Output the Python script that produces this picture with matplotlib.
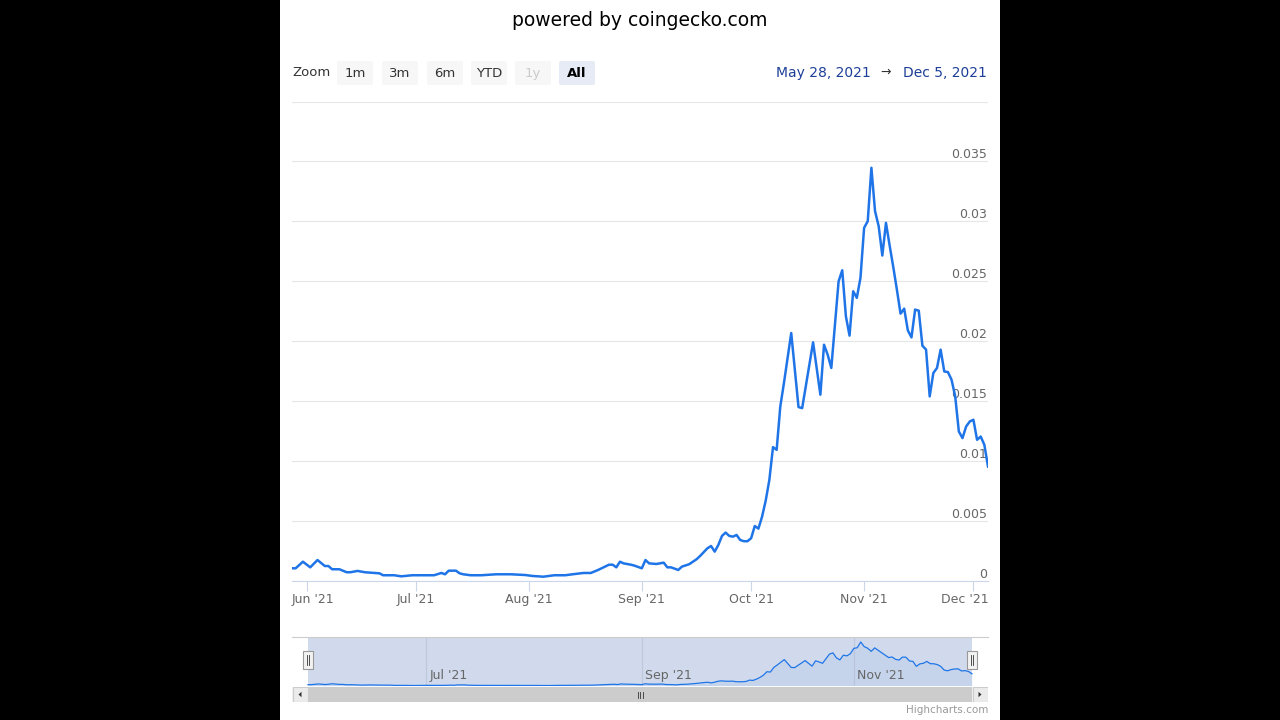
import matplotlib
matplotlib.use("Agg")
import matplotlib.pyplot as plt
import matplotlib.dates as mdates
import matplotlib.transforms as mtransforms
from matplotlib.patches import FancyBboxPatch, Rectangle, Polygon
import numpy as np
import pandas as pd

# daily price (USD)
dates = [
    "2021-05-28", "2021-05-29", "2021-05-31", "2021-06-02", "2021-06-04", "2021-06-06",
    "2021-06-07", "2021-06-08", "2021-06-10", "2021-06-12", "2021-06-13", "2021-06-15",
    "2021-06-17", "2021-06-21", "2021-06-22", "2021-06-25", "2021-06-27", "2021-06-30",
    "2021-07-02", "2021-07-06", "2021-07-08", "2021-07-09", "2021-07-10", "2021-07-12",
    "2021-07-13", "2021-07-14", "2021-07-16", "2021-07-19", "2021-07-23", "2021-07-27",
    "2021-07-31", "2021-08-02", "2021-08-05", "2021-08-08", "2021-08-11", "2021-08-13",
    "2021-08-16", "2021-08-18", "2021-08-20", "2021-08-23", "2021-08-24", "2021-08-25",
    "2021-08-26", "2021-08-27", "2021-08-29", "2021-08-30", "2021-09-01", "2021-09-02",
    "2021-09-03", "2021-09-05", "2021-09-07", "2021-09-08", "2021-09-09", "2021-09-11",
    "2021-09-12", "2021-09-14", "2021-09-16", "2021-09-17", "2021-09-19", "2021-09-20",
    "2021-09-21", "2021-09-22", "2021-09-23", "2021-09-24", "2021-09-25", "2021-09-26",
    "2021-09-27", "2021-09-28", "2021-09-29", "2021-09-30", "2021-10-01", "2021-10-02",
    "2021-10-03", "2021-10-04", "2021-10-05", "2021-10-06", "2021-10-07", "2021-10-08",
    "2021-10-09", "2021-10-10", "2021-10-12", "2021-10-14", "2021-10-15", "2021-10-18",
    "2021-10-20", "2021-10-21", "2021-10-22", "2021-10-23", "2021-10-25", "2021-10-26",
    "2021-10-27", "2021-10-28", "2021-10-29", "2021-10-30", "2021-10-31", "2021-11-01",
    "2021-11-02", "2021-11-03", "2021-11-04", "2021-11-05", "2021-11-06", "2021-11-07",
    "2021-11-08", "2021-11-09", "2021-11-10", "2021-11-11", "2021-11-12", "2021-11-13",
    "2021-11-14", "2021-11-15", "2021-11-16", "2021-11-17", "2021-11-18", "2021-11-19",
    "2021-11-20", "2021-11-21", "2021-11-22", "2021-11-23", "2021-11-24", "2021-11-25",
    "2021-11-26", "2021-11-27", "2021-11-28", "2021-11-29", "2021-11-30", "2021-12-01",
    "2021-12-02", "2021-12-03", "2021-12-04", "2021-12-05",
]
prices = [
    0.00106, 0.00106, 0.00161, 0.00114, 0.00175, 0.00125,
    0.00125, 0.00098, 0.00098, 0.00073, 0.00073, 0.00084,
    0.00073, 0.00064, 0.00048, 0.00048, 0.00039, 0.00048,
    0.00048, 0.00048, 0.00067, 0.00056, 0.00086, 0.00086,
    0.00064, 0.00056, 0.00048, 0.00048, 0.00056, 0.00056,
    0.00050, 0.00042, 0.00036, 0.00048, 0.00048, 0.00056,
    0.00067, 0.00067, 0.00092, 0.00136, 0.00136, 0.00114,
    0.00161, 0.00147, 0.00136, 0.00128, 0.00106, 0.00175,
    0.00147, 0.00142, 0.00153, 0.00114, 0.00114, 0.00092,
    0.00120, 0.00140, 0.00181, 0.00209, 0.00273, 0.00292,
    0.00245, 0.00301, 0.00376, 0.00404, 0.00376, 0.00370,
    0.00384, 0.00342, 0.00332, 0.00332, 0.00357, 0.00459,
    0.00437, 0.00537, 0.00671, 0.00844, 0.01117, 0.01094,
    0.01456, 0.01651, 0.02069, 0.01451, 0.01442, 0.01991,
    0.01554, 0.01971, 0.01888, 0.01777, 0.02500, 0.02592,
    0.02208, 0.02047, 0.02417, 0.02362, 0.02529, 0.02946,
    0.03002, 0.03447, 0.03085, 0.02960, 0.02715, 0.02988,
    0.02800, 0.02620, 0.02430, 0.02230, 0.02272, 0.02091,
    0.02032, 0.02264, 0.02255, 0.01963, 0.01930, 0.01540,
    0.01735, 0.01777, 0.01930, 0.01748, 0.01743, 0.01679,
    0.01540, 0.01247, 0.01192, 0.01289, 0.01331, 0.01345,
    0.01178, 0.01205, 0.01136, 0.00955,
]

month_ticks = ["2021-06-01", "2021-07-01", "2021-08-01", "2021-09-01",
               "2021-10-01", "2021-11-01", "2021-12-01"]
month_labels = ["Jun '21", "Jul '21", "Aug '21", "Sep '21", "Oct '21", "Nov '21", "Dec '21"]
nav_ticks = ["2021-07-01", "2021-09-01", "2021-11-01"]
nav_labels = ["Jul '21", "Sep '21", "Nov '21"]
y_ticks = [0, 0.005, 0.01, 0.015, 0.02, 0.025, 0.03, 0.035]
y_labels = ["0", "0.005", "0.01", "0.015", "0.02", "0.025", "0.03", "0.035"]
zoom_buttons = ["1m", "3m", "6m", "YTD", "1y", "All"]
range_start = "May 28, 2021"
range_end = "Dec 5, 2021"

LINE = "#1f75e8"
W, H = 1280, 720


def fbox(x0, y0, x1, y1):
    # pixel box (origin top-left) -> figure fraction
    return [x0 / W, 1 - y1 / H, (x1 - x0) / W, (y1 - y0) / H]


fig = plt.figure(figsize=(12.8, 7.2), dpi=100, facecolor="black")

# page background, title, range selector, credits
bg = fig.add_axes([0, 0, 1, 1], zorder=0)
bg.set_xlim(0, W)
bg.set_ylim(H, 0)
bg.axis("off")
bg.add_patch(Rectangle((280, 0), 720, 720, color="white", lw=0))
bg.text(640, 20, "powered by coingecko.com", ha="center", va="center",
        fontsize=13.5, color="black")
bg.text(292, 73, "Zoom", ha="left", va="center", fontsize=9.5, color="#333333")

btn_x = [336, 381, 426, 470, 514, 558]
for label, x in zip(zoom_buttons, btn_x):
    fill, col, weight = "#f7f7f7", "#333333", "normal"
    if label == "1y":
        col = "#cccccc"
    if label == "All":
        fill, col, weight = "#e6ebf5", "black", "bold"
    bg.add_patch(FancyBboxPatch((x + 1, 61), 36, 24,
                                boxstyle="round,pad=0,rounding_size=2",
                                fc=fill, ec="none"))
    bg.text(x + 19, 73.5, label, ha="center", va="center", fontsize=9.5,
            color=col, fontweight=weight)

bg.text(871, 73, range_start, ha="right", va="center", fontsize=10, color="#1d3f98")
bg.text(886, 72, "\u2192", ha="center", va="center", fontsize=9, color="#333333")
bg.text(987, 73, range_end, ha="right", va="center", fontsize=10, color="#1d3f98")
bg.text(988, 710, "Highcharts.com", ha="right", va="center", fontsize=7.5, color="#999999")

t = pd.to_datetime(dates)

# main chart
ax = fig.add_axes(fbox(292, 101.5, 988, 581), zorder=2)
ax.patch.set_visible(False)
ax.plot(t, prices, color=LINE, lw=1.8, solid_joinstyle="round", zorder=3)
ax.set_xlim(pd.Timestamp("2021-05-28"), pd.Timestamp("2021-12-05"))
ax.set_ylim(0, 0.04)
ax.set_yticks(np.arange(0, 0.0401, 0.005))
ax.yaxis.grid(True, color="#e6e6e6", lw=0.8)
ax.tick_params(axis="y", length=0, labelleft=False)
for s in ["top", "left", "right"]:
    ax.spines[s].set_visible(False)
ax.spines["bottom"].set_color("#ccd6eb")
ax.spines["bottom"].set_linewidth(0.8)
ax.set_xticks(pd.to_datetime(month_ticks))
ax.tick_params(axis="x", direction="out", length=7.2, width=0.8, color="#ccd6eb",
               labelbottom=False)

for v, s in zip(y_ticks, y_labels):
    ax.text(0.9985, v, s, transform=ax.get_yaxis_transform(), ha="right",
            va="bottom", fontsize=9, color="#666666", zorder=1)

xtr = ax.get_xaxis_transform()
for i, (d, s) in enumerate(zip(month_ticks, month_labels)):
    ha, dx = "center", 0
    if i == 0:
        ha, dx = "left", -15
    elif i == len(month_ticks) - 1:
        ha, dx = "right", 15
    tr = mtransforms.offset_copy(xtr, fig=fig, x=dx, y=0, units="dots")
    ax.text(pd.Timestamp(d), -0.025, s, transform=tr, ha=ha, va="top",
            fontsize=9, color="#666666")

# navigator
nav = fig.add_axes(fbox(292, 637, 988, 686), zorder=2)
nav.patch.set_visible(False)
pad = pd.Timedelta(days=4.6)
nav.set_xlim(t[0] - pad, t[-1] + pad)
nav.set_ylim(0, 0.0384)
for d in nav_ticks:
    nav.axvline(pd.Timestamp(d), color="#e6e6e6", lw=0.8, zorder=0)
nav.axvspan(t[0], t[-1], color="#6685c2", alpha=0.3, lw=0, zorder=1)
nav.fill_between(t, prices, color=LINE, alpha=0.05, lw=0, zorder=2)
nav.plot(t, prices, color=LINE, lw=0.9, zorder=3)
nav.set_xticks([])
nav.set_yticks([])
for s in ["left", "right", "bottom"]:
    nav.spines[s].set_visible(False)
nav.spines["top"].set_color("#cccccc")
nav.spines["top"].set_linewidth(0.8)
ntr = mtransforms.offset_copy(nav.get_xaxis_transform(), fig=fig, x=3, y=0, units="dots")
for d, s in zip(nav_ticks, nav_labels):
    nav.text(pd.Timestamp(d), 0.22, s, transform=ntr, ha="left", va="center",
             fontsize=9, color="#666666", zorder=4)

hw = 2.6  # handle width in days (~9 px)
for d in [t[0], t[-1]]:
    x = mdates.date2num(d)
    nav.add_patch(Rectangle((x - hw / 2, 0.34), hw, 0.38,
                            transform=nav.get_xaxis_transform(), fc="#f2f2f2",
                            ec="#999999", lw=0.8, zorder=5, clip_on=False))
    for off in (-0.35, 0.35):
        nav.plot([x + off, x + off], [0.43, 0.63], transform=nav.get_xaxis_transform(),
                 color="#333333", lw=0.6, zorder=6, clip_on=False)

# scrollbar
sb = fig.add_axes(fbox(292, 687, 988, 702), zorder=2)
sb.set_xlim(0, 696)
sb.set_ylim(0, 1)
sb.axis("off")
sb.add_patch(Rectangle((0, 0), 696, 1, fc="#f2f2f2", ec="none"))
sb.add_patch(Rectangle((16, 0), 664, 1, fc="#cccccc", ec="none"))
for x0 in (0, 680):
    sb.add_patch(Rectangle((x0 + 0.5, 0.03), 15, 0.94, fc="#ebebeb", ec="#cccccc", lw=0.8))
sb.add_patch(Polygon([[6.5, 0.5], [9.5, 0.68], [9.5, 0.32]], closed=True, fc="#333333", ec="none"))
sb.add_patch(Polygon([[689.5, 0.5], [686.5, 0.68], [686.5, 0.32]], closed=True, fc="#333333", ec="none"))
for gx in (345.5, 348, 350.5):
    sb.plot([gx, gx], [0.3, 0.7], color="#333333", lw=0.6)

fig.savefig("out.png", dpi=100, facecolor=fig.get_facecolor())
